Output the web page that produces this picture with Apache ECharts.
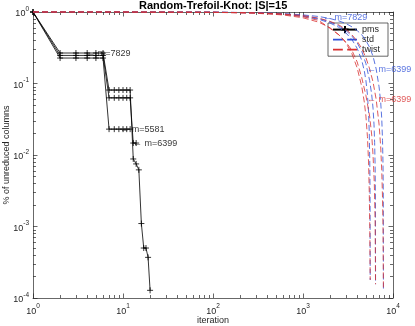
<!DOCTYPE html>
<html>
<head>
<meta charset="utf-8">
<script src="https://cdn.jsdelivr.net/npm/echarts@6/dist/echarts.min.js"></script>
<style>
  html, body { margin: 0; padding: 0; background: #fff; }
  #chart { width: 415px; height: 326px; }
</style>
</head>
<body>
<div id="chart"></div>
<script>
// pms: one value per iteration, three runs
const pmsIter = [1, 2, 3, 4, 5, 6, 7, 8, 9, 10, 11, 12, 13, 14, 15, 16, 17, 18, 19, 20];
const pms7829 = [1, .267, .267, .267, .267, .267, .081, .081, .081, .081, .081, .081, .0088, .0075, .0062, .0011, .0005, .0005, .00037, .000128];
const pms6399 = [1, .247, .247, .247, .247, .247, .063, .063, .063, .063, .063, .063, .0147, .0147];
const pms5581 = [1, .227, .227, .227, .227, .227, .023, .023, .023, .023, .023, .023];

// std (blue dashed)
const std7829Iter = [1, 10, 100, 300, 600, 1000, 1500, 2000, 2500, 3000, 3500, 4000, 4500, 5000, 5500, 6000, 6500, 7000, 7300, 7500, 7650, 7750, 7800, 7829];
const std7829 = [1, .999, .995, .98, .95, .91, .865, .81, .75, .69, .62, .55, .48, .40, .32, .24, .16, .09, .055, .032, .016, .007, .003, .000128];
const std6399Iter = [1, 10, 100, 300, 600, 1000, 1500, 2000, 2500, 3000, 3500, 4000, 4500, 5000, 5500, 5800, 6000, 6150, 6250, 6330, 6380, 6399];
const std6399 = [1, .999, .994, .975, .94, .89, .81, .73, .64, .55, .46, .37, .28, .19, .11, .07, .045, .027, .015, .007, .0025, .000156];
const std5581Iter = [1, 10, 100, 300, 600, 1000, 1500, 2000, 2500, 3000, 3500, 4000, 4500, 4800, 5000, 5200, 5350, 5450, 5520, 5560, 5581];
const std5581 = [1, .999, .993, .97, .93, .87, .79, .70, .61, .51, .41, .31, .21, .15, .11, .07, .04, .02, .008, .003, .000179];

// twist (red dashed)
const twist7829Iter = [1, 10, 100, 300, 600, 1000, 1500, 2000, 2500, 3000, 3500, 4000, 4500, 5000, 5500, 6000, 6500, 7000, 7300, 7500, 7650, 7750, 7829];
const twist7829 = [1, .999, .993, .975, .94, .89, .82, .74, .66, .57, .48, .39, .31, .23, .16, .105, .06, .027, .013, .006, .0025, .001, .000128];
const twist6399Iter = [1, 10, 100, 300, 600, 1000, 1500, 2000, 2500, 3000, 3500, 4000, 4500, 5000, 5500, 5800, 6000, 6200, 6330, 6399];
const twist6399 = [1, .999, .992, .97, .93, .86, .76, .59, .48, .38, .29, .20, .12, .068, .035, .019, .01, .004, .0012, .000156];
const twist5581Iter = [1, 10, 100, 300, 600, 1000, 1500, 2000, 2500, 3000, 3500, 4000, 4500, 4800, 5000, 5200, 5350, 5450, 5520, 5581];
const twist5581 = [1, .999, .99, .96, .91, .83, .72, .60, .48, .37, .26, .165, .09, .055, .035, .018, .008, .003, .001, .000179];

// annotations (arrow tip position, text)
const notes = [
  { at: [3.9, .265], text: '← m=7829', color: '#000' },
  { at: [9.3, .023], text: '← m=5581', color: '#000' },
  { at: [12.9, .0147], text: '← m=6399', color: '#000' },
  { at: [1670, .85], text: '← m=7829', color: '#3050d8' },
  { at: [5140, .155], text: '← m=6399', color: '#3050d8' },
  { at: [5140, .059], text: '← m=6399', color: '#d83030' }
];

const axisColor = '#262626';
const font = 'Liberation Sans, Arial, sans-serif';
const blue = '#3050d8', red = '#d83030';

function pairs(xs, ys) { return ys.map((v, i) => [xs[i], v]); }

// minor tick spots (log10 space) for the helper axes
function minorTicks(from, to) {
  const out = [];
  for (let d = from; d < to; d++) for (let j = 2; j <= 9; j++) out.push(d + Math.log10(j));
  return out;
}

function powLabel(margin) {
  return {
    margin: margin,
    formatter: v => '{b|10}{s|' + Math.round(Math.log10(v)) + '}',
    rich: {
      b: { fontSize: 9, lineHeight: 13, verticalAlign: 'bottom', color: axisColor, fontFamily: font },
      s: { fontSize: 6.5, lineHeight: 8, verticalAlign: 'top', color: axisColor, fontFamily: font }
    }
  };
}

const lineSt = { color: axisColor, width: 0.7 };

function logAxis(pos, min, max, label, extra) {
  return Object.assign({
    type: 'log', logBase: 10, min: min, max: max, position: pos,
    axisLine: { show: true, onZero: false, lineStyle: lineSt },
    axisTick: { show: true, inside: true, length: 4.5, lineStyle: lineSt },
    axisLabel: label || { show: false },
    splitLine: { show: false },
    minorTick: { show: false }
  }, extra || {});
}

function helperAxis(pos, min, max, ticks) {
  return {
    type: 'value', min: min, max: max, position: pos,
    axisLine: { show: false, onZero: false },
    axisTick: { show: true, inside: true, length: 3, lineStyle: lineSt, customValues: ticks },
    axisLabel: { show: false },
    splitLine: { show: false }
  };
}

const plus = 'path://M5 0L5 10M0 5L10 5';

function pmsSeries(vals) {
  return {
    name: 'pms', type: 'line', xAxisIndex: 0, yAxisIndex: 0,
    data: pairs(pmsIter, vals),
    symbol: plus, symbolSize: 6, showAllSymbol: true,
    itemStyle: { color: '#000', borderColor: '#000', borderWidth: 0.8 },
    lineStyle: { color: '#000', width: 0.8 },
    clip: false, animation: false, z: 3
  };
}

function dashSeries(name, color, xs, ys) {
  return {
    name: name, type: 'line', xAxisIndex: 0, yAxisIndex: 0,
    data: pairs(xs, ys),
    symbol: 'none', showSymbol: false,
    itemStyle: { color: color },
    lineStyle: { color: color, width: 0.8, type: [6, 3] },
    clip: false, animation: false, z: name === 'twist' ? 5 : 4
  };
}

const noteSeries = notes.map(n => ({
  type: 'scatter', xAxisIndex: 0, yAxisIndex: 0, silent: true,
  data: [n.at], symbolSize: 0, animation: false, z: 6,
  label: {
    show: true, position: 'right', distance: 0,
    formatter: n.text, color: n.color, fontSize: 9, fontFamily: font
  }
}));

// empty series so the tick-only helper axes count as used
const helperSeries = [
  { type: 'line', xAxisIndex: 2, yAxisIndex: 2, data: [], silent: true },
  { type: 'line', xAxisIndex: 3, yAxisIndex: 3, data: [], silent: true }
];

const dashIcon = 'path://M0 0H9V1.6H0ZM13 0H22V1.6H13Z';
const nameText = { fontSize: 9, color: axisColor, fontFamily: font };

const chart = echarts.init(document.getElementById('chart'), null, { renderer: 'canvas' });
chart.setOption({
  backgroundColor: '#fff',
  animation: false,
  title: {
    text: 'Random-Trefoil-Knot: |S|=15',
    left: 139, top: 0, padding: [0, 0],
    textStyle: { fontSize: 11, fontWeight: 'bold', color: '#000', fontFamily: font }
  },
  legend: {
    data: [
      { name: 'pms' },
      { name: 'std', icon: dashIcon, itemStyle: { color: blue } },
      { name: 'twist', icon: dashIcon, itemStyle: { color: red } }
    ],
    orient: 'vertical', right: 27, top: 23,
    padding: [2, 8, 2, 4], itemGap: 1,
    itemWidth: 24, itemHeight: 9,
    backgroundColor: '#fff', borderColor: axisColor, borderWidth: 0.7, borderRadius: 0,
    textStyle: { fontSize: 9, color: axisColor, fontFamily: font }
  },
  grid: { left: 33, right: 22, top: 12, bottom: 28, containLabel: false, outerBoundsMode: 'none' },
  xAxis: [
    logAxis('bottom', 1, 10000, powLabel(5), {
      name: 'iteration', nameLocation: 'middle', nameGap: 18, nameMoveOverlap: false,
      nameTextStyle: nameText
    }),
    logAxis('top', 1, 10000, null),
    helperAxis('bottom', 0, 4, minorTicks(0, 4)),
    helperAxis('top', 0, 4, minorTicks(0, 4))
  ],
  yAxis: [
    logAxis('left', 1e-4, 1, powLabel(4), {
      name: '% of unreduced columns', nameLocation: 'middle', nameGap: 22, nameMoveOverlap: false,
      nameTextStyle: nameText
    }),
    logAxis('right', 1e-4, 1, null),
    helperAxis('left', -4, 0, minorTicks(-4, 0)),
    helperAxis('right', -4, 0, minorTicks(-4, 0))
  ],
  series: [
    pmsSeries(pms7829), pmsSeries(pms6399), pmsSeries(pms5581),
    dashSeries('std', blue, std7829Iter, std7829),
    dashSeries('std', blue, std6399Iter, std6399),
    dashSeries('std', blue, std5581Iter, std5581),
    dashSeries('twist', red, twist7829Iter, twist7829),
    dashSeries('twist', red, twist6399Iter, twist6399),
    dashSeries('twist', red, twist5581Iter, twist5581)
  ].concat(noteSeries, helperSeries)
});
</script>
</body>
</html>
